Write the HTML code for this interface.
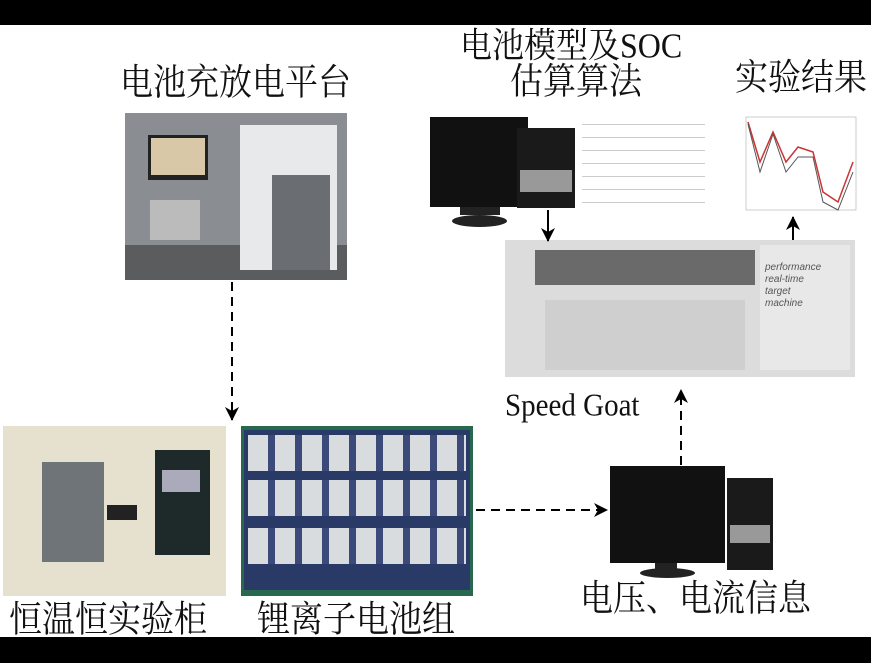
<!DOCTYPE html>
<html><head><meta charset="utf-8"><style>
body{margin:0;width:871px;height:663px;background:#fff;position:relative;overflow:hidden;font-family:"Liberation Serif","Noto Serif CJK SC",serif}
.a{position:absolute}
.t{position:absolute;z-index:5;font-size:33px;color:#111;white-space:nowrap;line-height:1;font-family:"Liberation Serif","Noto Serif CJK SC",serif;transform-origin:0 0;transform:scaleY(1.1)}
</style></head><body>
<div class="a" style="left:0;top:0;width:871px;height:25px;background:#000;z-index:6"></div>
<div class="a" style="left:0;top:637px;width:871px;height:26px;background:#000;z-index:6"></div>

<div class="t" style="left:120px;top:66px">电池充放电平台</div>
<div class="t" style="left:460px;top:28px;font-size:32px">电池模型及SOC</div>
<div class="t" style="left:510px;top:65px">估算算法</div>
<div class="t" style="left:735px;top:61px">实验结果</div>
<div class="t" style="left:505px;top:390px;font-size:29px">Speed Goat</div>
<div class="t" style="left:580px;top:582px">电压、电流信息</div>
<div class="t" style="left:9px;top:603px">恒温恒实验柜</div>
<div class="t" style="left:257px;top:603px">锂离子电池组</div>

<!-- platform photo -->
<div class="a" style="left:125px;top:113px;width:222px;height:167px;background:#8a8e92"></div>
<div class="a" style="left:125px;top:245px;width:222px;height:35px;background:#5a5c5e"></div>
<div class="a" style="left:240px;top:125px;width:97px;height:145px;background:#e8e9eb"></div>
<div class="a" style="left:272px;top:175px;width:58px;height:95px;background:#6a6d72"></div>
<div class="a" style="left:148px;top:135px;width:60px;height:45px;background:#222"></div>
<div class="a" style="left:151px;top:138px;width:54px;height:37px;background:#d8c8a8"></div>
<div class="a" style="left:150px;top:200px;width:50px;height:40px;background:#bbb"></div>

<!-- chamber -->
<div class="a" style="left:3px;top:426px;width:223px;height:170px;background:#e6e0cf"></div>
<div class="a" style="left:42px;top:462px;width:62px;height:100px;background:#6f7478"></div>
<div class="a" style="left:155px;top:450px;width:55px;height:105px;background:#1e2a2a"></div>
<div class="a" style="left:162px;top:470px;width:38px;height:22px;background:#aab"></div>
<div class="a" style="left:107px;top:505px;width:30px;height:15px;background:#222"></div>

<!-- battery pack -->
<div class="a" style="left:241px;top:426px;width:232px;height:170px;background:#27684e"></div>
<div class="a" style="left:244px;top:430px;width:226px;height:160px;background:#2a3a66"></div>
<div class="a" style="left:248px;top:435px;width:218px;height:36px;background:repeating-linear-gradient(90deg,#d9dcdf 0 20px,#3b4a78 20px 27px)"></div>
<div class="a" style="left:248px;top:480px;width:218px;height:36px;background:repeating-linear-gradient(90deg,#d9dcdf 0 20px,#3b4a78 20px 27px)"></div>
<div class="a" style="left:248px;top:528px;width:218px;height:36px;background:repeating-linear-gradient(90deg,#d9dcdf 0 20px,#3b4a78 20px 27px)"></div>

<!-- top computer -->
<div class="a" style="left:430px;top:117px;width:98px;height:90px;background:#111"></div>
<div class="a" style="left:460px;top:207px;width:40px;height:8px;background:#222"></div>
<div class="a" style="left:452px;top:215px;width:55px;height:12px;border-radius:50%;background:#222"></div>
<div class="a" style="left:517px;top:128px;width:58px;height:80px;background:#1a1a1a"></div>
<div class="a" style="left:520px;top:170px;width:52px;height:22px;background:#999"></div>
<!-- schematic -->
<div class="a" style="left:582px;top:113px;width:123px;height:102px;background:repeating-linear-gradient(0deg,#fff 0 12px,#ccc 12px 13px)"></div>
<!-- chart -->
<svg class="a" style="left:738px;top:112px" width="120" height="108"><rect x="8" y="5" width="110" height="93" fill="none" stroke="#999" stroke-width=".5"/><polyline points="10,10 22,50 35,20 48,50 60,35 75,40 85,80 100,90 115,50" fill="none" stroke="#c33" stroke-width="1.5"/><polyline points="10,12 22,60 35,22 48,60 60,45 75,45 85,90 100,98 115,60" fill="none" stroke="#555" stroke-width="1"/></svg>

<!-- speedgoat -->
<div class="a" style="left:505px;top:240px;width:350px;height:137px;background:#dcdcdc"></div>
<div class="a" style="left:535px;top:250px;width:220px;height:35px;background:#6a6a6a"></div>
<div class="a" style="left:760px;top:245px;width:90px;height:125px;background:#e8e8e8"></div>
<div class="a" style="left:765px;top:262px;font:italic 10px 'Liberation Sans',sans-serif;color:#555;line-height:12px">performance<br>real-time<br>target<br>machine</div>
<div class="a" style="left:545px;top:300px;width:200px;height:70px;background:#cfcfcf"></div>

<!-- bottom computer -->
<div class="a" style="left:610px;top:466px;width:115px;height:97px;background:#111"></div>
<div class="a" style="left:655px;top:563px;width:22px;height:8px;background:#222"></div>
<div class="a" style="left:640px;top:568px;width:55px;height:10px;border-radius:50%;background:#222"></div>
<div class="a" style="left:727px;top:478px;width:46px;height:92px;background:#1a1a1a"></div>
<div class="a" style="left:730px;top:525px;width:40px;height:18px;background:#999"></div>

<svg class="a" style="left:0;top:0" width="871" height="663">
<defs><marker id="m" markerWidth="14" markerHeight="14" refX="13" refY="7" orient="auto" markerUnits="userSpaceOnUse"><path d="M0,0 L14,7 L0,14 L4,7z" fill="#000"/></marker></defs>
<g stroke="#000" stroke-width="2" fill="none" stroke-dasharray="9,6">
<line x1="232" y1="282" x2="232" y2="420" marker-end="url(#m)"/>
<line x1="476" y1="510" x2="607" y2="510" marker-end="url(#m)"/>
<line x1="681" y1="465" x2="681" y2="390" marker-end="url(#m)"/>
</g>
<g stroke="#000" stroke-width="2">
<line x1="548" y1="210" x2="548" y2="241" marker-end="url(#m)"/>
<line x1="793" y1="240" x2="793" y2="217" marker-end="url(#m)"/>
</g>
</svg>
</body></html>
